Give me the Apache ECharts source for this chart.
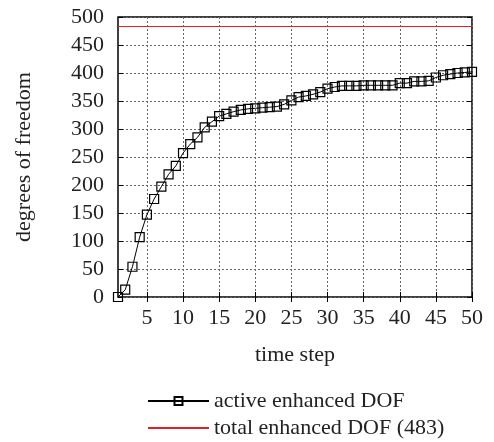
<!DOCTYPE html>
<html>
<head>
<meta charset="utf-8">
<script src="https://cdn.jsdelivr.net/npm/echarts@6/dist/echarts.min.js"></script>
<style>
  html, body { margin: 0; padding: 0; background: #fff; }
  #chart { width: 494px; height: 442px; }
</style>
</head>
<body>
<div id="chart"></div>
<script>
// time steps
var steps = [1, 2, 3, 4, 5, 6, 7, 8, 9, 10, 11, 12, 13, 14, 15, 16, 17, 18, 19, 20,
  21, 22, 23, 24, 25, 26, 27, 28, 29, 30, 31, 32, 33, 34, 35, 36, 37, 38, 39, 40,
  41, 42, 43, 44, 45, 46, 47, 48, 49, 50];
// active enhanced DOF per step
var activeDof = [0, 13, 54, 107, 147, 175, 197, 219, 234, 257, 273, 285, 303, 313, 323, 327, 331, 334, 336, 337,
  338, 339, 340, 344, 351, 357, 359, 362, 366, 372, 375, 377, 377, 377, 378, 378, 378, 378, 378, 382,
  382, 385, 385, 386, 392, 396, 398, 400, 401, 402];
var totalDof = 483;
var xTicks = [5, 10, 15, 20, 25, 30, 35, 40, 45, 50];

var font = "'Liberation Serif', 'Times New Roman', Times, serif";
var fs = 22;

var activeData = steps.map(function (s, i) { return [s, activeDof[i]]; });
var totalData = [[steps[0], totalDof], [steps[steps.length - 1], totalDof]];

var myChart = echarts.init(document.getElementById('chart'));
myChart.setOption({
  animation: false,
  textStyle: { fontFamily: font, color: '#222' },
  grid: {
    left: 118, right: 22, top: 17, bottom: 145,
    show: true, borderColor: '#000', borderWidth: 1.5
  },
  legend: {
    orient: 'vertical',
    left: 142, top: 385, height: 60,
    itemWidth: 61, itemHeight: 10, itemGap: 5,
    textStyle: { fontFamily: font, fontSize: fs, color: '#222' },
    data: [
      { name: 'active enhanced DOF' },
      { name: 'total enhanced DOF (483)', itemStyle: { color: 'rgba(0,0,0,0)', borderWidth: 0 } }
    ]
  },
  xAxis: [{
    type: 'value',
    min: 1, max: 50,
    name: 'time step',
    nameLocation: 'middle',
    nameGap: 47,
    nameTextStyle: { fontFamily: font, fontSize: fs, color: '#222' },
    axisLine: { show: false },
    axisTick: { show: true, inside: true, length: 5, customValues: xTicks, lineStyle: { color: '#000' } },
    axisLabel: { customValues: xTicks, fontFamily: font, fontSize: fs, color: '#222', margin: 10 },
    splitLine: { show: true, customValues: xTicks, lineStyle: { color: '#666', type: [2, 2], width: 1 } }
  }, {
    type: 'value',
    position: 'top',
    min: 1, max: 50,
    axisLine: { show: false },
    axisTick: { show: true, inside: true, length: 5, customValues: xTicks, lineStyle: { color: '#000' } },
    axisLabel: { show: false, customValues: xTicks },
    splitLine: { show: false }
  }],
  yAxis: [{
    type: 'value',
    min: 0, max: 500, interval: 50,
    name: 'degrees of freedom',
    nameLocation: 'middle',
    nameGap: 83,
    nameTextStyle: { fontFamily: font, fontSize: fs, color: '#222' },
    axisLine: { show: false },
    axisTick: { show: true, inside: true, length: 5, lineStyle: { color: '#000' } },
    axisLabel: { fontFamily: font, fontSize: fs, color: '#222', margin: 14 },
    splitLine: { show: true, lineStyle: { color: '#666', type: [2, 2], width: 1 } }
  }, {
    type: 'value',
    position: 'right',
    min: 0, max: 500, interval: 50,
    axisLine: { show: false },
    axisTick: { show: true, inside: true, length: 5, lineStyle: { color: '#000' } },
    axisLabel: { show: false },
    splitLine: { show: false }
  }],
  series: [{
    name: 'active enhanced DOF',
    type: 'line',
    data: activeData,
    symbol: 'rect',
    symbolSize: 9,
    showAllSymbol: true,
    lineStyle: { color: '#000', width: 1 },
    itemStyle: { color: 'rgba(255,255,255,0)', borderColor: '#000', borderWidth: 1.2 },
    z: 3
  }, {
    name: 'total enhanced DOF (483)',
    type: 'line',
    data: totalData,
    symbol: 'none',
    lineStyle: { color: '#e02020', width: 1 },
    itemStyle: { color: '#e02020' },
    z: 2
  }]
});
window.addEventListener('resize', function () {
  myChart.resize();
});
</script>
</body>
</html>
